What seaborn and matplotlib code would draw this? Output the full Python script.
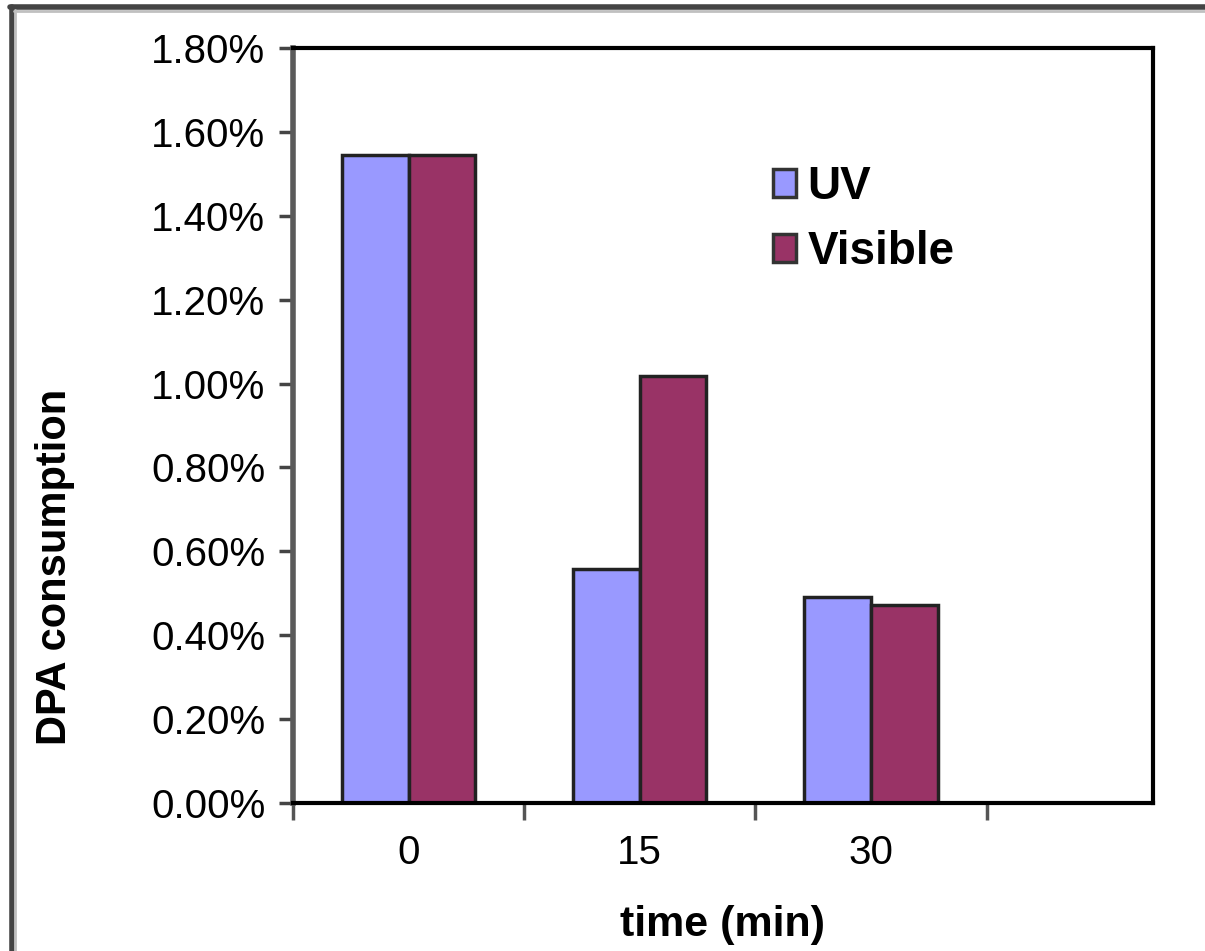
import matplotlib
matplotlib.use("Agg")
import matplotlib.pyplot as plt
import seaborn as sns
import pandas as pd
from matplotlib.ticker import FuncFormatter, FixedLocator
from matplotlib.lines import Line2D

categories = ["0", "15", "30"]
series = ["UV", "Visible"]
uv_values = [1.545, 0.558, 0.491]
visible_values = [1.545, 1.018, 0.472]
colors = ["#9999FF", "#993366"]

df = pd.DataFrame({
    "time": categories * 2,
    "series": [series[0]] * 3 + [series[1]] * 3,
    "value": uv_values + visible_values,
})

sns.set_style("white")
plt.rcParams['font.family'] = ['Liberation Sans', 'DejaVu Sans']
plt.rcParams['text.color'] = 'black'
plt.rcParams['axes.labelcolor'] = 'black'
plt.rcParams['xtick.labelcolor'] = 'black'
plt.rcParams['ytick.labelcolor'] = 'black'

fig = plt.figure(figsize=(12.05, 9.51), dpi=100)
ax = fig.add_axes([293/1205, 1-803/951, (1153-293)/1205, (803-48)/951])

sns.barplot(data=df, x="time", y="value", hue="series", order=categories,
            hue_order=series, palette=colors, width=0.576, gap=0,
            edgecolor="#222222", linewidth=2.5, ax=ax, saturation=1)

ax.set_ylim(0, 1.8)
ax.set_xlim(-0.5, 3.22)
ax.yaxis.set_major_locator(FixedLocator([i * 0.2 for i in range(10)]))
ax.yaxis.set_major_formatter(FuncFormatter(lambda v, p: f"{v:.2f}%"))

ax.set_xticks([-0.5, 0.5, 1.5, 2.5])
ax.set_xticklabels([])
ax.set_xticks([0, 1, 2], minor=True)
ax.set_xticklabels(categories, minor=True)
ax.tick_params(axis="x", which="major", length=12, width=2.5, color="#555555", direction="out", bottom=True)
ax.tick_params(axis="x", which="minor", length=0, pad=22, labelsize=29, labelcolor="black")
ax.tick_params(axis="y", which="major", length=10, width=2.5, color="#444444", direction="out", left=True, pad=10, labelsize=29, labelcolor="black")

for s in ["top", "right", "bottom"]:
    ax.spines[s].set_visible(True)
    ax.spines[s].set_color("black")
    ax.spines[s].set_linewidth(3)
ax.spines["left"].set_color("#5a5a5a")
ax.spines["left"].set_linewidth(4)

ax.set_xlabel("time (min)", fontsize=31, fontweight="bold", color="black")
ax.set_ylabel("DPA consumption", fontsize=30, fontweight="bold", color="black")
ax.xaxis.set_label_coords((723-293)/860, -(925-803)/755)
ax.yaxis.set_label_coords(-(293-55)/860, (803-567)/755)
ax.xaxis.label.set_va("center")
ax.yaxis.label.set_va("center")

leg = ax.legend(loc="upper left", bbox_to_anchor=(755/1205, 1-147/951),
                bbox_transform=fig.transFigure, frameon=False,
                prop={"family": "Liberation Sans", "weight": "bold", "size": 33},
                handlelength=0.5, handleheight=0.55, handletextpad=0.25,
                labelspacing=0.45, borderaxespad=0)
for t in leg.get_texts():
    t.set_color("black")
for h in leg.legend_handles:
    h.set_edgecolor("#333333")
    h.set_linewidth(2.5)

# figure border (partially visible, as in the reference)
fig.add_artist(Line2D([12/1205, 12/1205], [0, 1-7/951], transform=fig.transFigure,
                      color="#444444", linewidth=4))
fig.add_artist(Line2D([10/1205, 1], [1-7/951, 1-7/951], transform=fig.transFigure,
                      color="#444444", linewidth=4))
fig.add_artist(Line2D([15/1205, 15/1205], [0, 1-10/951], transform=fig.transFigure,
                      color="#c0c0c0", linewidth=2))
fig.add_artist(Line2D([14/1205, 1], [1-10.5/951, 1-10.5/951], transform=fig.transFigure,
                      color="#c0c0c0", linewidth=2))

fig.savefig("out.png", dpi=100)
